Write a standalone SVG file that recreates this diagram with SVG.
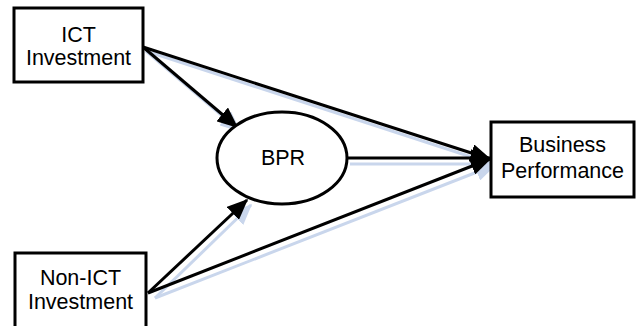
<svg xmlns="http://www.w3.org/2000/svg" width="636" height="326" viewBox="0 0 636 326">
<style>
.box{fill:#fff;stroke:#000;stroke-width:3}
.t{font-family:"Liberation Sans",Arial,sans-serif;font-size:21.5px;fill:#000;text-anchor:middle}
.c{stroke:#000;stroke-width:3;fill:none}
.s{stroke:#c9d6ec;stroke-width:3;fill:none}
</style>
<defs>
<marker id="ah" markerWidth="7" markerHeight="6" refX="6.5" refY="3" orient="auto" markerUnits="strokeWidth">
<path d="M0,0 L7,3 L0,6 z" fill="#000"/>
</marker>
<marker id="ahs" markerWidth="7" markerHeight="6" refX="6.5" refY="3" orient="auto" markerUnits="strokeWidth">
<path d="M0,0 L7,3 L0,6 z" fill="#c9d6ec"/>
</marker>
</defs>
<g id="connectors">
<g id="shadows">
<line class="s" x1="146" y1="51" x2="240" y2="131" marker-end="url(#ahs)"/>
<line class="s" x1="146" y1="51" x2="493" y2="164"/>
<line class="s" x1="350" y1="164" x2="493" y2="164" marker-end="url(#ahs)"/>
<line class="s" x1="155" y1="298" x2="251" y2="205" marker-end="url(#ahs)"/>
<line class="s" x1="155" y1="298" x2="495" y2="165" marker-end="url(#ahs)"/>
</g>
<line class="c" x1="143" y1="47" x2="237" y2="127" marker-end="url(#ah)"/>
<line class="c" x1="143" y1="47" x2="490" y2="159" marker-end="url(#ah)"/>
<line class="c" x1="347" y1="158" x2="490" y2="158" marker-end="url(#ah)"/>
<line class="c" x1="148" y1="293" x2="247" y2="200" marker-end="url(#ah)"/>
<line class="c" x1="148" y1="293" x2="490" y2="159" marker-end="url(#ah)"/>
</g>
<g id="ict">
<rect class="box" x="14" y="8" width="129" height="74"/>
<text class="t" x="78.5" y="42">ICT</text>
<text class="t" x="78.5" y="65">Investment</text>
</g>
<g id="nonict">
<rect class="box" x="15" y="253" width="131" height="80"/>
<text class="t" x="80.5" y="285">Non-ICT</text>
<text class="t" x="80.5" y="309">Investment</text>
</g>
<g id="bpr">
<ellipse cx="282" cy="158" rx="65" ry="46" fill="#fff" stroke="#000" stroke-width="3"/>
<text class="t" x="283" y="165">BPR</text>
</g>
<g id="bp">
<rect class="box" x="491" y="122" width="143" height="75"/>
<text class="t" x="562.5" y="152">Business</text>
<text class="t" x="562.5" y="178">Performance</text>
</g>
</svg>
